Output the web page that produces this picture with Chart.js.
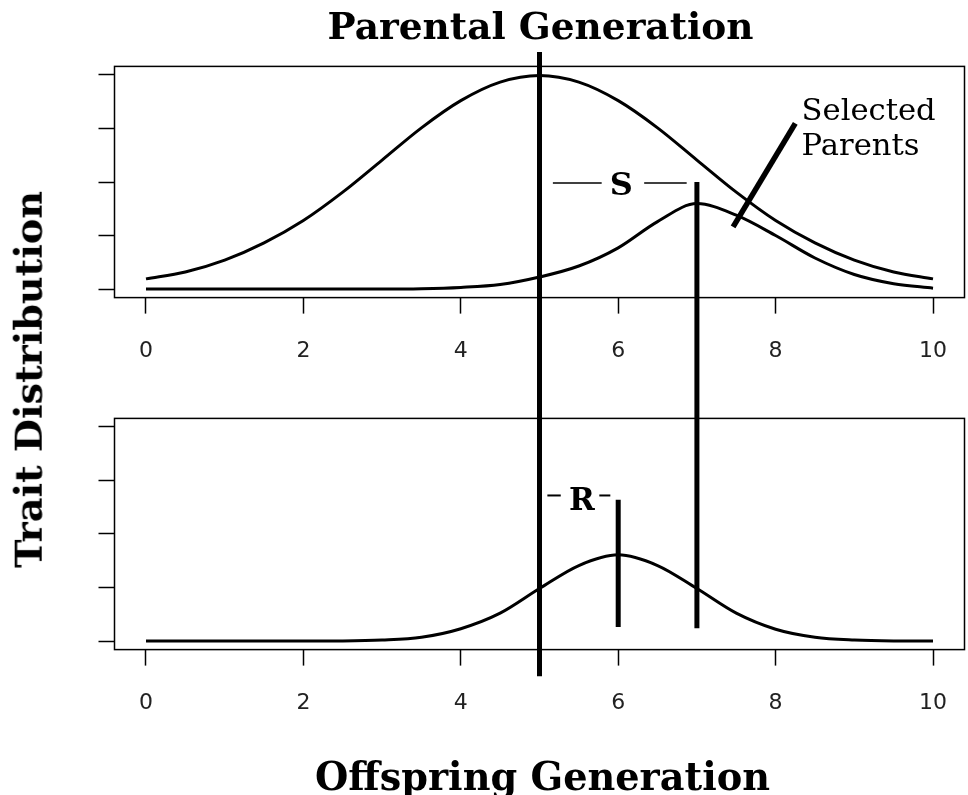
<!DOCTYPE html>
<html>
<head>
<meta charset="utf-8">
<script src="https://cdn.jsdelivr.net/npm/chart.js@4/dist/chart.umd.min.js"></script>
<style>
html,body{margin:0;padding:0;background:#fff;width:968px;height:795px;overflow:hidden;position:relative}
#topChart{position:absolute;left:0;top:0}
#botChart{position:absolute;left:0;top:400px}
#ylab{position:absolute;left:0;top:0;transform-origin:0 0;white-space:nowrap;font-family:"DejaVu Serif";font-weight:bold;color:#000}
</style>
</head>
<body>
<canvas id="topChart" width="968" height="400"></canvas>
<canvas id="botChart" width="968" height="395"></canvas>
<div id="ylab">Trait Distribution</div>
<script>
// ---- data ----
const xGrid = [0,0.5,1,1.5,2,2.5,3,3.5,4,4.5,5,5.5,6,6.5,7,7.5,8,8.5,9,9.5,10];
const parentalDensity = [0.0095,0.0159,0.0270,0.0431,0.0640,0.0905,0.1205,0.1506,0.1760,0.1933,0.1995,0.1933,0.1760,0.1506,0.1205,0.0905,0.0640,0.0431,0.0270,0.0159,0.0095];
const selectedDensity = [0,0,0,0,0,0,0,0.0003,0.0015,0.0042,0.0112,0.0215,0.0385,0.0630,0.0798,0.0690,0.0500,0.0290,0.0136,0.0050,0.0008];
const offspringDensity = [0,0,0,0,0,0.0001,0.0009,0.0035,0.0115,0.0260,0.0490,0.0705,0.0805,0.0705,0.0490,0.0260,0.0110,0.0035,0.0009,0.0001,0];
const xTicks = [0,2,4,6,8,10];
const yTicks = [0,0.05,0.10,0.15,0.20];
const parentalMean = 5, selectedMean = 7, offspringMean = 6;
const titles = ['Parental Generation','Offspring Generation','Trait Distribution'];

// ---- helpers ----
const mctx = document.createElement('canvas').getContext('2d');
function fitSize(text, weight, family, target){
  mctx.font = weight + ' 100px ' + family;
  return 100 * target / mctx.measureText(text).width;
}
const SERIF = '"DejaVu Serif"';
const titleTopSize = fitSize(titles[0], 'bold', SERIF, 426);
const titleBotSize = fitSize(titles[1], 'bold', SERIF, 455);
const ylabSize = fitSize(titles[2], 'bold', SERIF, 377);
const selSize = fitSize('Selected', 'normal', SERIF, 134);

function pts(xs, ys){ return xs.map((x,i)=>({x:x, y:ys[i]})); }
function seg(x0,y0,x1,y1){ return [{x:x0,y:y0},{x:x1,y:y1}]; }

function curve(data){
  return {data:data, borderColor:'#000', borderWidth:3, pointRadius:0, fill:false,
          cubicInterpolationMode:'monotone'};
}
function rule(data, w){
  return {data:data, borderColor:'#000', borderWidth:w, pointRadius:0, fill:false,
          tension:0, clip:false, borderCapStyle:'butt'};
}

const annot = {
  id:'annot',
  afterDraw(chart, args, opts){
    const ctx = chart.ctx, a = chart.chartArea;
    const sx = chart.scales.x, sy = chart.scales.y;
    ctx.save();
    ctx.strokeStyle = '#000'; ctx.lineWidth = 1.5;
    ctx.strokeRect(a.left, a.top, a.right - a.left, a.bottom - a.top);
    ctx.fillStyle = '#000';
    (opts.texts || []).forEach(t => {
      ctx.font = t.font;
      ctx.textAlign = t.align || 'center';
      ctx.textBaseline = 'alphabetic';
      const px = t.center ? (a.left + a.right) / 2 + (t.dx || 0) : sx.getPixelForValue(t.x);
      const py = t.py !== undefined ? t.py : sy.getPixelForValue(t.y);
      ctx.fillText(t.text, px, py);
    });
    ctx.restore();
  }
};

function options(padTop, xAxisH, texts){
  const gridOpts = {drawOnChartArea:false, drawTicks:true, tickLength:16, tickWidth:1.5, tickColor:'#000'};
  return {
    responsive:false, animation:false, events:[],
    layout:{padding:{left:0, right:3.5, top:padTop, bottom:0}},
    plugins:{legend:{display:false}, tooltip:{enabled:false}, title:{display:false}, annot:{texts:texts}},
    scales:{
      x:{type:'linear', min:-0.4, max:10.4,
         afterBuildTicks:s=>{ s.ticks = xTicks.map(v=>({value:v})); },
         afterFit:s=>{ s.height = xAxisH; s.paddingLeft = 0; s.paddingRight = 0; },
         grid:gridOpts, border:{display:false},
         ticks:{padding:24, color:'#222', font:{family:'DejaVu Sans', size:22},
                maxRotation:0, autoSkip:false, callback:v=>String(v)}},
      y:{type:'linear', min:-0.008, max:0.208,
         afterBuildTicks:s=>{ s.ticks = yTicks.map(v=>({value:v})); },
         afterFit:s=>{ s.width = 114.5; s.paddingTop = 0; s.paddingBottom = 0; },
         grid:gridOpts, border:{display:false},
         ticks:{display:false}}
    }
  };
}

new Chart(document.getElementById('topChart'), {
  type:'line',
  data:{datasets:[
    curve(pts(xGrid, parentalDensity)),
    curve(pts(xGrid, selectedDensity)),
    rule(seg(parentalMean, 0.2215, parentalMean, -0.5), 5),
    rule(seg(selectedMean, 0.100, selectedMean, -0.5), 5),
    rule(seg(5.17, 0.0991, 5.79, 0.0991), 1.5),
    rule(seg(6.33, 0.0991, 6.87, 0.0991), 1.5),
    rule(seg(8.25, 0.1547, 7.46, 0.058), 5.5)
  ]},
  options:options(66.4, 102.4, [
    {text:titles[0], center:true, dx:1, py:39, font:'bold ' + titleTopSize.toFixed(2) + 'px ' + SERIF},
    {text:'S', x:6.04, y:0.0877, font:'bold 32px ' + SERIF},
    {text:'Selected', x:8.33, y:0.1578, align:'left', font:'normal ' + selSize.toFixed(2) + 'px ' + SERIF},
    {text:'Parents', x:8.33, y:0.1250, align:'left', font:'normal ' + selSize.toFixed(2) + 'px ' + SERIF}
  ]),
  plugins:[annot]
});

new Chart(document.getElementById('botChart'), {
  type:'line',
  data:{datasets:[
    curve(pts(xGrid, offspringDensity)),
    rule(seg(parentalMean, 0.5, parentalMean, -0.033), 5),
    rule(seg(selectedMean, 0.5, selectedMean, 0.012), 5),
    rule(seg(offspringMean, 0.132, offspringMean, 0.013), 5),
    rule(seg(5.10, 0.136, 5.27, 0.136), 2),
    rule(seg(5.76, 0.136, 5.90, 0.136), 2)
  ]},
  options:options(18.4, 145.4, [
    {text:'R', x:5.54, y:0.1225, font:'bold 31px ' + SERIF},
    {text:titles[1], center:true, dx:3, py:390, font:'bold ' + titleBotSize.toFixed(2) + 'px ' + SERIF}
  ]),
  plugins:[annot]
});

// rotated y label: baseline at x=42, centred at y=379.5
const yl = document.getElementById('ylab');
yl.style.fontSize = ylabSize.toFixed(2) + 'px';
yl.style.lineHeight = ylabSize.toFixed(2) + 'px';
mctx.font = 'bold ' + ylabSize.toFixed(2) + 'px ' + SERIF;
const ylW = mctx.measureText(titles[2]).width;
const baseOff = 0.846 * ylabSize;
yl.style.transform = 'translate(' + (42 - baseOff).toFixed(1) + 'px,' + (379.5 + ylW / 2).toFixed(1) + 'px) rotate(-90deg)';
</script>
</body>
</html>
